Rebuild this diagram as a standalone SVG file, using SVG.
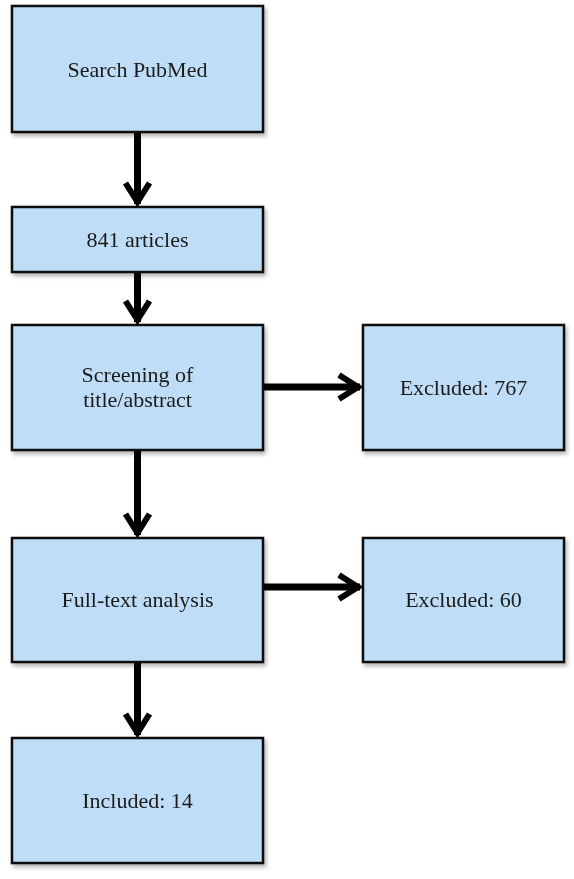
<svg xmlns="http://www.w3.org/2000/svg" width="574" height="879" viewBox="0 0 574 879">
<style>
.box{fill:#bfddf6;stroke:#111;stroke-width:2.5}
.lbl{font-family:"Liberation Serif","Times New Roman",serif;font-size:22px;fill:#1a1a1a;text-anchor:middle}
.con{stroke:#000;stroke-width:7;fill:none}
.head{stroke:#000;stroke-width:6;fill:none;stroke-linejoin:miter;stroke-miterlimit:10}
</style>
<defs>
<filter id="sh" x="-5%" y="-5%" width="115%" height="120%">
<feDropShadow dx="2" dy="3" stdDeviation="2" flood-color="#000" flood-opacity="0.3"/>
</filter>
<marker id="ah" markerUnits="userSpaceOnUse" markerWidth="32" markerHeight="32" refX="28" refY="16" orient="auto" overflow="visible">
<path class="head" d="M 7 4 L 26 16 L 7 28"/>
</marker>
</defs>
<g id="n1" filter="url(#sh)"><rect class="box" x="12" y="6" width="251" height="126"/><text class="lbl" x="137.5" y="77">Search PubMed</text></g>
<g id="n2" filter="url(#sh)"><rect class="box" x="12" y="207" width="251" height="65"/><text class="lbl" x="137.5" y="247">841 articles</text></g>
<g id="n3" filter="url(#sh)"><rect class="box" x="12" y="325" width="251" height="125"/><text class="lbl" x="137.5" y="382">Screening of</text><text class="lbl" x="137.5" y="407">title/abstract</text></g>
<g id="n4" filter="url(#sh)"><rect class="box" x="363" y="325" width="201" height="125"/><text class="lbl" x="463.5" y="395">Excluded: 767</text></g>
<g id="n5" filter="url(#sh)"><rect class="box" x="12" y="538" width="251" height="124"/><text class="lbl" x="137.5" y="607">Full-text analysis</text></g>
<g id="n6" filter="url(#sh)"><rect class="box" x="363" y="538" width="201" height="124"/><text class="lbl" x="463.5" y="607">Excluded: 60</text></g>
<g id="n7" filter="url(#sh)"><rect class="box" x="12" y="738" width="251" height="125"/><text class="lbl" x="137.5" y="808">Included: 14</text></g>
<g id="connectors">
<line class="con" x1="137.5" y1="133" x2="137.5" y2="204" marker-end="url(#ah)"/>
<line class="con" x1="137.5" y1="273" x2="137.5" y2="322" marker-end="url(#ah)"/>
<line class="con" x1="137.5" y1="451" x2="137.5" y2="535" marker-end="url(#ah)"/>
<line class="con" x1="137.5" y1="663" x2="137.5" y2="735" marker-end="url(#ah)"/>
<line class="con" x1="264" y1="387" x2="360" y2="387" marker-end="url(#ah)"/>
<line class="con" x1="264" y1="587" x2="360" y2="587" marker-end="url(#ah)"/>
</g>
</svg>
